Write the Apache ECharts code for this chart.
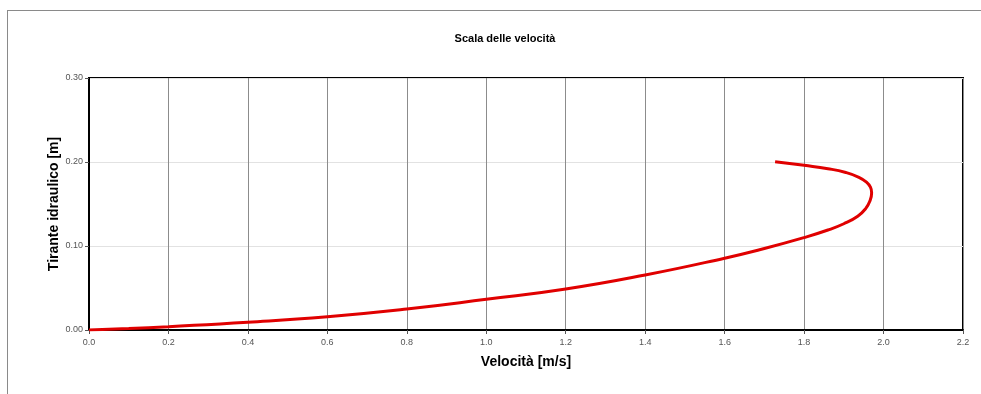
<!DOCTYPE html>
<html>
<head>
<meta charset="utf-8">
<style>
html,body{margin:0;padding:0;background:#fff;}
#chart{width:981px;height:394px;}
</style>
<script src="https://cdn.jsdelivr.net/npm/echarts@6/dist/echarts.min.js"></script>
</head>
<body>
<div id="chart"></div>
<script>
var velocity = [0.0, 0.1, 0.2, 0.4, 0.6, 0.8, 1.0, 1.2, 1.4, 1.6, 1.7, 1.8, 1.860, 1.900, 1.935, 1.955, 1.966, 1.970, 1.967, 1.957, 1.938, 1.905, 1.860, 1.800, 1.727];
var depth    = [0.0, 0.0018, 0.0040, 0.0092, 0.0158, 0.0250, 0.0365, 0.0488, 0.0655, 0.0855, 0.0970, 0.1100, 0.1190, 0.1265, 0.1355, 0.1445, 0.1540, 0.1635, 0.1700, 0.1760, 0.1818, 0.1875, 0.1920, 0.1960, 0.2004];
var xTicks = [0.0, 0.2, 0.4, 0.6, 0.8, 1.0, 1.2, 1.4, 1.6, 1.8, 2.0, 2.2];
var yTicks = [0.00, 0.10, 0.20, 0.30];

var points = velocity.map(function (v, i) { return [v, depth[i]]; });
var fontFam = '"Liberation Sans", Arial, sans-serif';

var chart = echarts.init(document.getElementById('chart'), null, {renderer: 'canvas'});
chart.setOption({
  animation: false,
  backgroundColor: '#fff',
  title: {
    text: 'Scala delle velocità',
    left: 500, top: 28, textAlign: 'center',
    textStyle: {fontFamily: fontFam, fontSize: 11, fontWeight: 'bold', color: '#000'}
  },
  graphic: [
    {type: 'line', shape: {x1: 7, y1: 10.5, x2: 981, y2: 10.5}, style: {stroke: '#8a8a8a', lineWidth: 1}},
    {type: 'line', shape: {x1: 7.5, y1: 10, x2: 7.5, y2: 394}, style: {stroke: '#8a8a8a', lineWidth: 1}}
  ],
  grid: {left: 89, right: 18, top: 78, bottom: 64, show: true, borderColor: '#000', borderWidth: 2, backgroundColor: 'transparent'},
  xAxis: {
    type: 'value', min: 0, max: 2.2, interval: 0.2,
    name: 'Velocità [m/s]', nameLocation: 'middle', nameGap: 25, nameMoveOverlap: false,
    nameTextStyle: {fontFamily: fontFam, fontSize: 14, fontWeight: 'bold', color: '#000'},
    axisLine: {show: true, lineStyle: {color: '#000', width: 2}},
    axisTick: {show: true, length: 4, lineStyle: {color: '#555'}},
    axisLabel: {fontFamily: fontFam, fontSize: 9, color: '#555', margin: 8,
      formatter: function (v) { return v.toFixed(1); }},
    splitLine: {show: true, lineStyle: {color: '#8c8c8c', width: 1}}
  },
  yAxis: {
    type: 'value', min: 0, max: 0.3, interval: 0.1,
    name: 'Tirante idraulico [m]', nameLocation: 'middle', nameGap: 28, nameMoveOverlap: false,
    nameTextStyle: {fontFamily: fontFam, fontSize: 14, fontWeight: 'bold', color: '#000'},
    axisLine: {show: true, lineStyle: {color: '#000', width: 2}},
    axisTick: {show: true, length: 4, lineStyle: {color: '#555'}},
    axisLabel: {fontFamily: fontFam, fontSize: 9, color: '#555', margin: 6,
      formatter: function (v) { return v.toFixed(2); }},
    splitLine: {show: true, lineStyle: {color: '#e2e2e2', width: 1}}
  },
  series: [{
    type: 'line',
    data: points,
    smooth: 0.5,
    showSymbol: false,
    lineStyle: {color: '#e00000', width: 3},
    z: 5
  }]
});
</script>
</body>
</html>
